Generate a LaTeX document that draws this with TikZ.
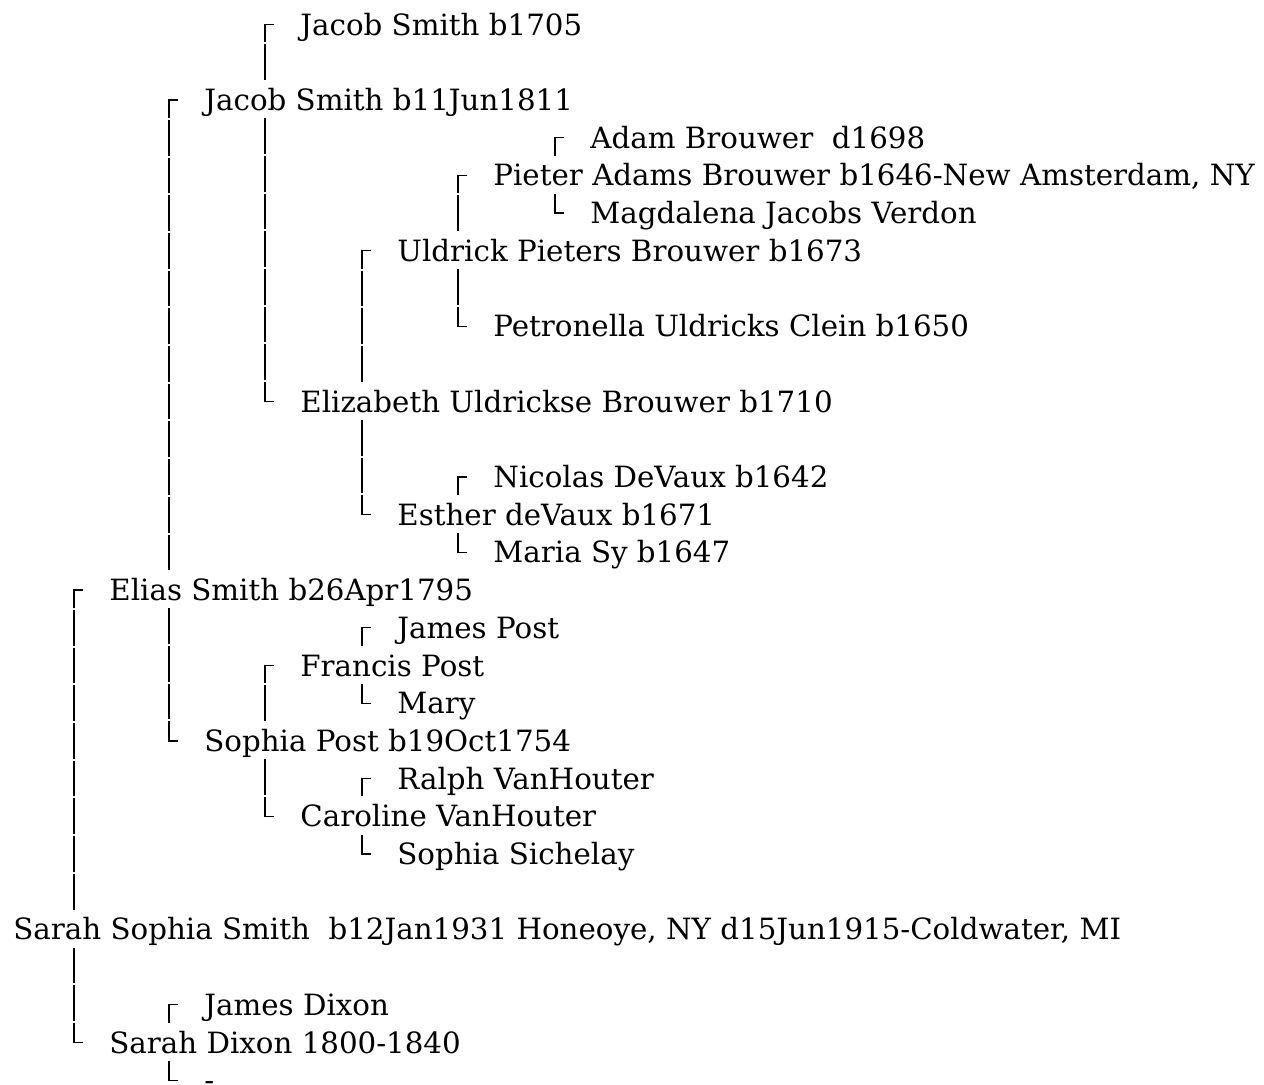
\documentclass[tikz,border=0pt]{standalone}
\usepackage{fontspec}
\setmainfont{DejaVu Serif}
\usepackage{tikz}
\usetikzlibrary{calc,positioning}

\begin{document}
\begin{tikzpicture}[x=0.5pt,y=-0.5pt]
		\tikzstyle{person}=[anchor=west, inner sep=0pt, text height=14.15pt, text depth=3.65pt, font=\fontsize{14.65}{18}\selectfont]
		\tikzstyle{upline}=[line width=0.65pt, black, dash pattern=on 17.85pt off 1pt, dash phase=4.425pt]
		\tikzstyle{downline}=[line width=0.65pt, black, dash pattern=on 17.85pt off 1pt]
		\useasboundingbox (0,0) rectangle (1264,1084);
		% generation 0
		\node [person] (sarahS) at (13,929.4) {Sarah Sophia Smith~ b12Jan1931 Honeoye, NY d15Jun1915-Coldwater, MI};
		% generation 1
		\node [person] (elias) at (109,590.1) {Elias Smith b26Apr1795};
		\node [person] (sarahD) at (109,1042.5) {Sarah Dixon 1800-1840};
		% generation 2
		\node [person] (jacobB) at (204,100.0) {Jacob Smith b11Jun1811};
		\node [person] (sophiaP) at (204,740.9) {Sophia Post b19Oct1754};
		\node [person] (jamesD) at (204,1004.8) {James Dixon};
		\node [person] (unknownD) at (204,1080.2) {-};
		% generation 3
		\node [person] (jacobA) at (300,24.6) {Jacob Smith b1705};
		\node [person] (elizabeth) at (300,401.6) {Elizabeth Uldrickse Brouwer b1710};
		\node [person] (francis) at (300,665.5) {Francis Post};
		\node [person] (caroline) at (300,816.3) {Caroline VanHouter};
		% generation 4
		\node [person] (uldrick) at (397,250.8) {Uldrick Pieters Brouwer b1673};
		\node [person] (esther) at (397,514.7) {Esther deVaux b1671};
		\node [person] (jamesP) at (397,627.8) {James Post};
		\node [person] (mary) at (397,703.2) {Mary};
		\node [person] (ralph) at (397,778.6) {Ralph VanHouter};
		\node [person] (sichelay) at (397,854.0) {Sophia Sichelay};
		% generation 5
		\node [person] (pieter) at (493,175.4) {Pieter Adams Brouwer b1646-New Amsterdam, NY};
		\node [person] (petronella) at (493,326.2) {Petronella Uldricks Clein b1650};
		\node [person] (nicolas) at (493,477.0) {Nicolas DeVaux b1642};
		\node [person] (maria) at (493,552.4) {Maria Sy b1647};
		% generation 6
		\node [person] (adam) at (590,137.7) {Adam Brouwer~ d1698};
		\node [person] (magdalena) at (590,213.1) {Magdalena Jacobs Verdon};
		% father lines
		\draw [upline] ([xshift=-13pt]elias.west) -- ([xshift=-17.5pt]elias.west) -- ([xshift=-17.5pt]elias.west |- sarahS.north);
		\draw [upline] ([xshift=-13pt]jacobB.west) -- ([xshift=-17.5pt]jacobB.west) -- ([xshift=-17.5pt]jacobB.west |- elias.north);
		\draw [upline] ([xshift=-13pt]jamesD.west) -- ([xshift=-17.5pt]jamesD.west) -- ([xshift=-17.5pt]jamesD.west |- sarahD.north);
		\draw [upline] ([xshift=-13pt]jacobA.west) -- ([xshift=-17.5pt]jacobA.west) -- ([xshift=-17.5pt]jacobA.west |- jacobB.north);
		\draw [upline] ([xshift=-13pt]francis.west) -- ([xshift=-17.5pt]francis.west) -- ([xshift=-17.5pt]francis.west |- sophiaP.north);
		\draw [upline] ([xshift=-13pt]uldrick.west) -- ([xshift=-17.5pt]uldrick.west) -- ([xshift=-17.5pt]uldrick.west |- elizabeth.north);
		\draw [upline] ([xshift=-13pt]jamesP.west) -- ([xshift=-17.5pt]jamesP.west) -- ([xshift=-17.5pt]jamesP.west |- francis.north);
		\draw [upline] ([xshift=-13pt]ralph.west) -- ([xshift=-17.5pt]ralph.west) -- ([xshift=-17.5pt]ralph.west |- caroline.north);
		\draw [upline] ([xshift=-13pt]pieter.west) -- ([xshift=-17.5pt]pieter.west) -- ([xshift=-17.5pt]pieter.west |- uldrick.north);
		\draw [upline] ([xshift=-13pt]nicolas.west) -- ([xshift=-17.5pt]nicolas.west) -- ([xshift=-17.5pt]nicolas.west |- esther.north);
		\draw [upline] ([xshift=-13pt]adam.west) -- ([xshift=-17.5pt]adam.west) -- ([xshift=-17.5pt]adam.west |- pieter.north);
		% mother lines
		\draw [downline] ([xshift=-17.5pt]sarahD.west |- sarahS.south) -- ([xshift=-17.5pt]sarahD.west) -- ([xshift=-13pt]sarahD.west);
		\draw [downline] ([xshift=-17.5pt]sophiaP.west |- elias.south) -- ([xshift=-17.5pt]sophiaP.west) -- ([xshift=-13pt]sophiaP.west);
		\draw [downline] ([xshift=-17.5pt]unknownD.west |- sarahD.south) -- ([xshift=-17.5pt]unknownD.west) -- ([xshift=-13pt]unknownD.west);
		\draw [downline] ([xshift=-17.5pt]elizabeth.west |- jacobB.south) -- ([xshift=-17.5pt]elizabeth.west) -- ([xshift=-13pt]elizabeth.west);
		\draw [downline] ([xshift=-17.5pt]caroline.west |- sophiaP.south) -- ([xshift=-17.5pt]caroline.west) -- ([xshift=-13pt]caroline.west);
		\draw [downline] ([xshift=-17.5pt]esther.west |- elizabeth.south) -- ([xshift=-17.5pt]esther.west) -- ([xshift=-13pt]esther.west);
		\draw [downline] ([xshift=-17.5pt]mary.west |- francis.south) -- ([xshift=-17.5pt]mary.west) -- ([xshift=-13pt]mary.west);
		\draw [downline] ([xshift=-17.5pt]sichelay.west |- caroline.south) -- ([xshift=-17.5pt]sichelay.west) -- ([xshift=-13pt]sichelay.west);
		\draw [downline] ([xshift=-17.5pt]petronella.west |- uldrick.south) -- ([xshift=-17.5pt]petronella.west) -- ([xshift=-13pt]petronella.west);
		\draw [downline] ([xshift=-17.5pt]maria.west |- esther.south) -- ([xshift=-17.5pt]maria.west) -- ([xshift=-13pt]maria.west);
		\draw [downline] ([xshift=-17.5pt]magdalena.west |- pieter.south) -- ([xshift=-17.5pt]magdalena.west) -- ([xshift=-13pt]magdalena.west);
	\end{tikzpicture}
\end{document}
